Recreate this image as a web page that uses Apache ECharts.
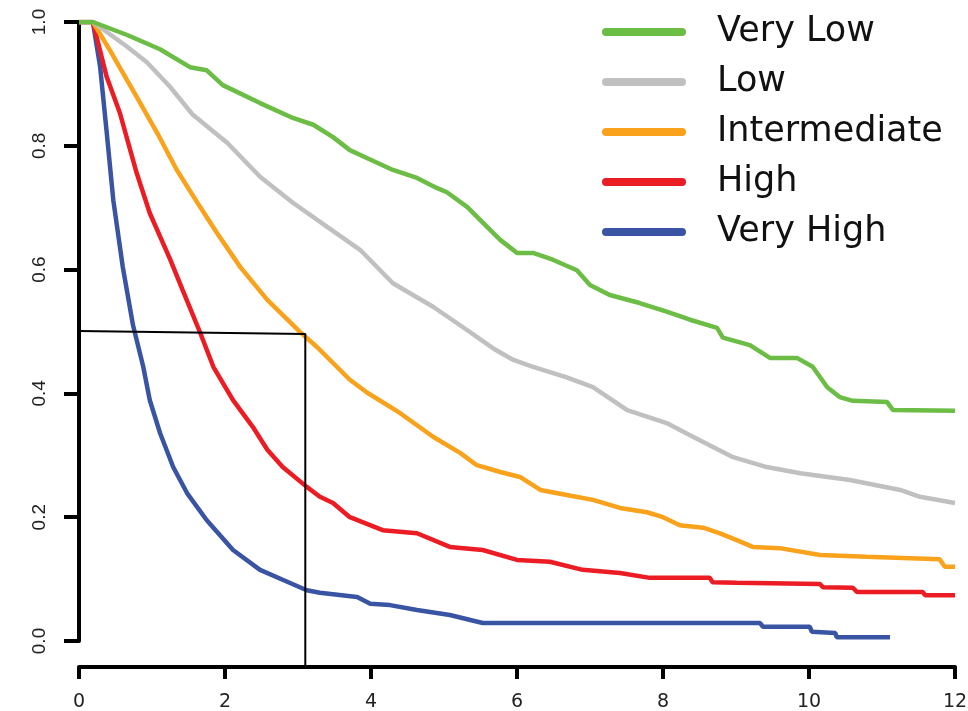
<!DOCTYPE html>
<html>
<head>
<meta charset="utf-8">
<script src="https://cdn.jsdelivr.net/npm/echarts@6/dist/echarts.min.js"></script>
<style>
  html, body { margin: 0; padding: 0; background: #fff; }
  #chart { width: 968px; height: 711px; }
</style>
</head>
<body>
<div id="chart"></div>
<script>
// survival curves, [time, proportion]
var veryLow = [[0, 1], [0.19, 1], [0.66, 0.979], [1.11, 0.956], [1.52, 0.927], [1.75, 0.922], [1.97, 0.898], [2.48, 0.869], [2.93, 0.845], [3.21, 0.834], [3.48, 0.814], [3.71, 0.793], [3.95, 0.780], [4.30, 0.761], [4.63, 0.748], [4.90, 0.732], [5.04, 0.725], [5.32, 0.701], [5.59, 0.669], [5.77, 0.648], [6.00, 0.627], [6.22, 0.627], [6.49, 0.616], [6.82, 0.599], [7.00, 0.575], [7.27, 0.559], [7.68, 0.546], [8.05, 0.532], [8.37, 0.519], [8.74, 0.506], [8.82, 0.490], [9.19, 0.478], [9.47, 0.457], [9.84, 0.457], [10.05, 0.443], [10.25, 0.410], [10.42, 0.394], [10.60, 0.388], [11.07, 0.386], [11.15, 0.373], [12.0, 0.372]]
var low = [[0, 1], [0.19, 1], [0.66, 0.960], [0.93, 0.935], [1.25, 0.895], [1.56, 0.850], [2.03, 0.805], [2.48, 0.750], [2.93, 0.708], [3.40, 0.669], [3.85, 0.632], [4.30, 0.578], [4.85, 0.540], [5.32, 0.502], [5.67, 0.473], [5.95, 0.454], [6.22, 0.443], [6.68, 0.426], [7.04, 0.410], [7.51, 0.373], [8.05, 0.352], [8.41, 0.330], [8.96, 0.297], [9.42, 0.281], [9.88, 0.271], [10.56, 0.260], [11.25, 0.244], [11.52, 0.233], [12.0, 0.223]]
var intermediate = [[0, 1], [0.19, 1], [0.42, 0.955], [0.79, 0.879], [1.07, 0.821], [1.34, 0.761], [1.66, 0.701], [1.89, 0.659], [2.21, 0.604], [2.58, 0.551], [3.03, 0.499], [3.26, 0.475], [3.71, 0.422], [3.95, 0.401], [4.40, 0.368], [4.85, 0.330], [5.22, 0.304], [5.45, 0.284], [5.77, 0.273], [6.04, 0.265], [6.32, 0.244], [6.68, 0.236], [7.04, 0.228], [7.41, 0.215], [7.78, 0.208], [8.0, 0.200], [8.23, 0.187], [8.55, 0.183], [8.78, 0.174], [9.01, 0.163], [9.23, 0.152], [9.60, 0.150], [10.15, 0.139], [10.79, 0.136], [11.79, 0.132], [11.86, 0.120], [12.0, 0.120]]
var high = [[0, 1], [0.19, 1], [0.38, 0.911], [0.56, 0.853], [0.79, 0.756], [0.97, 0.691], [1.25, 0.616], [1.42, 0.567], [1.66, 0.498], [1.84, 0.443], [2.11, 0.389], [2.38, 0.346], [2.58, 0.309], [2.79, 0.281], [3.12, 0.249], [3.30, 0.233], [3.48, 0.223], [3.71, 0.200], [4.16, 0.179], [4.63, 0.174], [5.08, 0.152], [5.53, 0.147], [6.0, 0.131], [6.45, 0.128], [6.90, 0.115], [7.41, 0.110], [7.82, 0.102], [8.64, 0.102], [8.68, 0.095], [9.01, 0.094], [10.15, 0.092], [10.19, 0.087], [10.60, 0.086], [10.66, 0.079], [11.56, 0.079], [11.59, 0.074], [12.0, 0.074]]
var veryHigh = [[0, 1], [0.19, 1], [0.29, 0.927], [0.38, 0.821], [0.47, 0.712], [0.60, 0.604], [0.74, 0.510], [0.88, 0.443], [0.97, 0.389], [1.11, 0.336], [1.29, 0.281], [1.48, 0.239], [1.75, 0.195], [2.11, 0.147], [2.48, 0.115], [2.79, 0.099], [3.12, 0.082], [3.30, 0.078], [3.81, 0.071], [3.99, 0.060], [4.26, 0.058], [4.63, 0.050], [5.08, 0.042], [5.53, 0.029], [9.33, 0.029], [9.37, 0.023], [10.01, 0.023], [10.04, 0.015], [10.36, 0.013], [10.38, 0.006], [11.11, 0.006]]

// median marker (horizontal at 0.5, then down to the x axis)
var medianLine = [[0, 0.501], [3.1, 0.496], [3.1, -0.042]]

var groupNames = ['Very Low', 'Low', 'Intermediate', 'High', 'Very High']
var groupColors = ['#6cbd45', '#c0c0c0', '#faa21b', '#ec1c24', '#3a54a4']
var groupData = [veryLow, low, intermediate, high, veryHigh]

var chart = echarts.init(document.getElementById('chart'), null, { renderer: 'canvas' })

var series = groupNames.map(function(name, i) {
  return {
    name: name,
    type: 'line',
    data: groupData[i],
    showSymbol: false,
    symbol: 'none',
    color: groupColors[i],
    lineStyle: { color: groupColors[i], width: 4.5 },
    z: 10 - i
  }
})
series.push({
  name: 'median',
  type: 'line',
  data: medianLine,
  showSymbol: false,
  symbol: 'none',
  clip: false,
  lineStyle: { color: '#000', width: 2 },
  z: 20
})

chart.setOption({
  animation: false,
  backgroundColor: '#fff',
  grid: {
    left: 79,
    right: 13,
    top: 22,
    bottom: 70,
    containLabel: false,
    outerBoundsMode: 'none'
  },
  legend: {
    data: groupNames,
    orient: 'vertical',
    left: 602,
    top: 11,
    padding: 0,
    itemWidth: 84,
    itemHeight: 9,
    itemGap: 8,
    icon: 'path://M4,0 H80 A4,4 0 0 1 80,8 H4 A4,4 0 0 1 4,0 Z',
    textStyle: {
      fontFamily: 'DejaVu Sans',
      fontSize: 35,
      color: '#111',
      lineHeight: 36,
      padding: [0, 0, 6, 26]
    }
  },
  xAxis: {
    type: 'value',
    min: 0,
    max: 12,
    interval: 2,
    offset: 26,
    axisLine: { show: true, onZero: false, lineStyle: { color: '#000', width: 4 } },
    axisTick: { show: true, length: 12, lineStyle: { color: '#000', width: 4 } },
    splitLine: { show: false },
    axisLabel: {
      fontFamily: 'DejaVu Sans',
      fontSize: 19,
      color: '#222',
      margin: 26
    }
  },
  yAxis: {
    type: 'value',
    min: 0,
    max: 1,
    interval: 0.2,
    axisLine: { show: true, onZero: false, lineStyle: { color: '#000', width: 4 } },
    axisTick: { show: true, length: 15, lineStyle: { color: '#000', width: 4 } },
    splitLine: { show: false },
    axisLabel: {
      rotate: 90,
      fontFamily: 'Liberation Sans',
      fontSize: 19,
      color: '#222',
      margin: 30,
      formatter: function(v) { return v.toFixed(1) }
    }
  },
  series: series
})
</script>
</body>
</html>
